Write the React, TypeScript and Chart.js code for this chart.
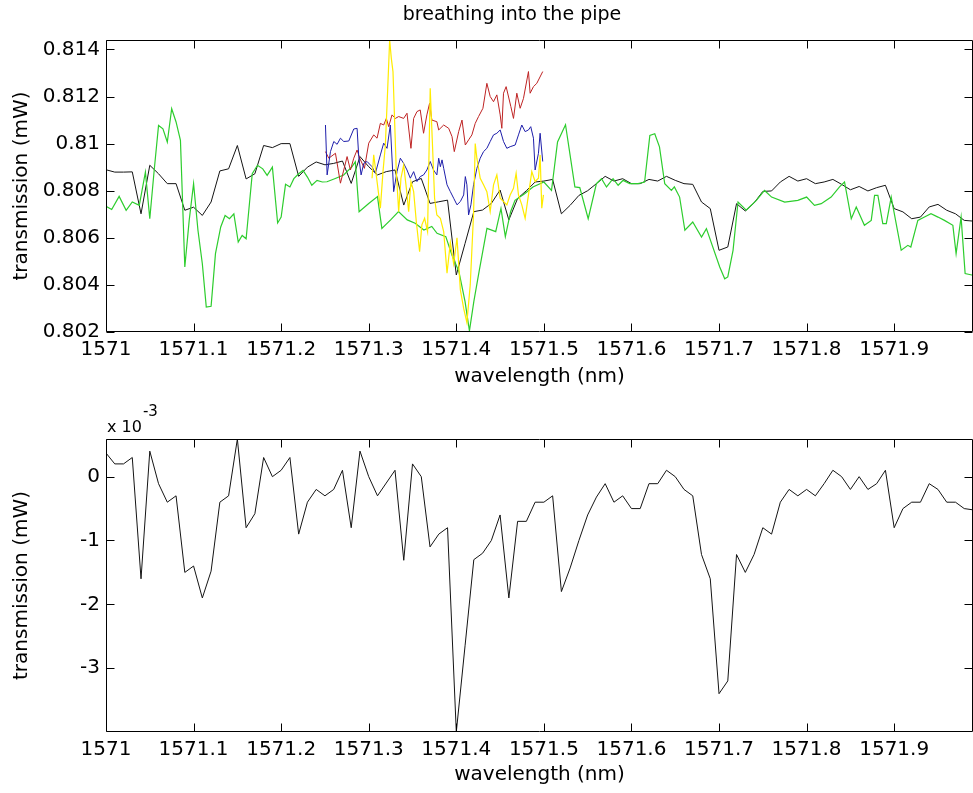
import React, { useEffect, useRef } from "react";
import { Chart, registerables } from "chart.js";

Chart.register(...registerables);

// ---------- data ----------
const TITLE = "breathing into the pipe";
const X_LABEL = "wavelength (nm)";
const Y_LABEL = "transmission (mW)";

const xTicks = [1571, 1571.1, 1571.2, 1571.3, 1571.4, 1571.5, 1571.6, 1571.7, 1571.8, 1571.9];
const topYTicks = [0.802, 0.804, 0.806, 0.808, 0.81, 0.812, 0.814];
const bottomYTicks = [-3, -2, -1, 0];

// regular 0.01 nm sampling grid (1571.00 ... 1571.99)
const gridWavelengths = Array.from({ length: 100 }, (_, i) => +(1571 + i * 0.01).toFixed(2));

// top panel, black trace (mW)
const blackValues = [
  0.80889, 0.80879, 0.80879, 0.8088, 0.80702, 0.80908, 0.80872, 0.8083, 0.8083, 0.80717,
  0.8073, 0.80695, 0.80752, 0.80884, 0.80893, 0.80992, 0.8085, 0.80872, 0.80992, 0.80983,
  0.81, 0.81, 0.80861, 0.809, 0.80922, 0.8091, 0.80916, 0.80926, 0.80831, 0.80945,
  0.80902, 0.80867, 0.80881, 0.80888, 0.80739, 0.80838, 0.80852, 0.80746, 0.80753, 0.8076,
  0.80442, 0.80576, 0.80711, 0.80718, 0.80746, 0.80803, 0.80676, 0.80767, 0.808, 0.80837,
  0.80841, 0.80848, 0.80702, 0.80738, 0.8078, 0.808, 0.8083, 0.80861, 0.80841, 0.80851,
  0.8083, 0.8083, 0.80848, 0.80841, 0.80861, 0.80844, 0.8083, 0.80827, 0.80752, 0.80724,
  0.80547, 0.80561, 0.80745, 0.80714, 0.80748, 0.80797, 0.80799, 0.80837, 0.80861, 0.80841,
  0.80851, 0.8083, 0.80837, 0.80848, 0.80827, 0.80804, 0.80818, 0.80799, 0.80813, 0.80823,
  0.80724, 0.8071, 0.80681, 0.80688, 0.80731, 0.80742, 0.80717, 0.80702, 0.80674, 0.80671,
];

// bottom panel, difference trace (x 10^-3 mW)
const differenceValues = [
  0.37, 0.2, 0.2, 0.3, -1.6, 0.4, -0.11, -0.4, -0.3, -1.5,
  -1.4, -1.9, -1.48, -0.4, -0.3, 0.59, -0.8, -0.58, 0.3, 0,
  0.1, 0.3, -0.9, -0.4, -0.2, -0.3, -0.2, 0.1, -0.8, 0.4,
  0, -0.3, -0.1, 0.1, -1.31, 0.2, 0, -1.1, -0.9, -0.8,
  -4.0, -2.65, -1.3, -1.2, -1.0, -0.6, -1.9, -0.7, -0.7, -0.4,
  -0.4, -0.3, -1.8, -1.43, -1.0, -0.6, -0.32, -0.11, -0.4, -0.3,
  -0.5, -0.5, -0.11, -0.11, 0.1, 0, -0.2, -0.3, -1.22, -1.6,
  -3.4, -3.2, -1.22, -1.5, -1.22, -0.8, -0.9, -0.4, -0.2, -0.3,
  -0.2, -0.3, -0.11, 0.1, 0, -0.2, 0, -0.2, -0.11, 0.1,
  -0.8, -0.5, -0.4, -0.4, -0.11, -0.2, -0.4, -0.4, -0.5, -0.52,
];

// top panel, green trace [wavelength nm, mW]
const greenSeries: [number, number][] = [
  [1571.0, 0.80734], [1571.0065, 0.8072], [1571.015, 0.80776], [1571.023, 0.80717], [1571.03, 0.80752],
  [1571.038, 0.80738], [1571.045, 0.80879], [1571.05, 0.80681], [1571.055, 0.80886], [1571.06, 0.81077],
  [1571.065, 0.81063], [1571.07, 0.81007], [1571.075, 0.81148], [1571.08, 0.81092], [1571.085, 0.81014],
  [1571.09, 0.80476], [1571.095, 0.80674], [1571.1, 0.8083], [1571.105, 0.80632], [1571.11, 0.8049],
  [1571.1145, 0.80306], [1571.12, 0.80309], [1571.125, 0.80533], [1571.131, 0.80646], [1571.136, 0.80695],
  [1571.141, 0.80681], [1571.146, 0.80702], [1571.151, 0.80582], [1571.1555, 0.8061], [1571.16, 0.80596],
  [1571.167, 0.80872], [1571.173, 0.80908], [1571.179, 0.80893], [1571.184, 0.80865], [1571.19, 0.809],
  [1571.196, 0.80663], [1571.2, 0.80688], [1571.205, 0.80827], [1571.21, 0.80816], [1571.2145, 0.80851],
  [1571.22, 0.80872], [1571.225, 0.80886], [1571.23, 0.80858], [1571.235, 0.80823], [1571.241, 0.80844],
  [1571.247, 0.80837], [1571.2523, 0.80838], [1571.2618, 0.80852], [1571.2714, 0.80867], [1571.281, 0.80902],
  [1571.2847, 0.80923], [1571.289, 0.80711], [1571.3, 0.80746], [1571.31, 0.80775], [1571.315, 0.8064],
  [1571.325, 0.80676], [1571.334, 0.80711], [1571.344, 0.80676], [1571.353, 0.80662], [1571.363, 0.80633],
  [1571.372, 0.80648], [1571.378, 0.80619], [1571.388, 0.80605], [1571.395, 0.80527], [1571.403, 0.80456],
  [1571.41, 0.80329], [1571.415, 0.80205], [1571.42, 0.80329], [1571.426, 0.80456], [1571.435, 0.8064],
  [1571.445, 0.80626], [1571.451, 0.80725], [1571.456, 0.80605], [1571.462, 0.80711], [1571.467, 0.80759],
  [1571.478, 0.80787], [1571.4875, 0.80816], [1571.5, 0.80837], [1571.5087, 0.80801], [1571.5156, 0.81007],
  [1571.5247, 0.8108], [1571.5354, 0.80816], [1571.541, 0.80813], [1571.5506, 0.80681], [1571.56, 0.8083],
  [1571.5658, 0.80851], [1571.5715, 0.80816], [1571.579, 0.80851], [1571.5848, 0.80823], [1571.5905, 0.80844],
  [1571.598, 0.8083], [1571.6076, 0.8083], [1571.615, 0.80837], [1571.621, 0.81035], [1571.6266, 0.81042],
  [1571.632, 0.80986], [1571.638, 0.8083], [1571.6456, 0.80801], [1571.649, 0.80816], [1571.655, 0.80773],
  [1571.661, 0.80632], [1571.67, 0.80667], [1571.68, 0.80603], [1571.6856, 0.80639], [1571.7008, 0.80476],
  [1571.7065, 0.80426], [1571.71, 0.80434], [1571.716, 0.80547], [1571.7217, 0.80752], [1571.731, 0.80717],
  [1571.7426, 0.80759], [1571.752, 0.80801], [1571.76, 0.80773], [1571.775, 0.80752], [1571.79, 0.80759],
  [1571.8, 0.80773], [1571.809, 0.80738], [1571.8167, 0.80745], [1571.828, 0.80773], [1571.8376, 0.80816],
  [1571.8433, 0.80837], [1571.851, 0.80681], [1571.8567, 0.80731], [1571.866, 0.80653], [1571.8738, 0.80674],
  [1571.8776, 0.8078], [1571.8814, 0.8078], [1571.887, 0.8066], [1571.891, 0.8066], [1571.8966, 0.80773],
  [1571.908, 0.80547], [1571.9156, 0.80568], [1571.919, 0.80561], [1571.927, 0.80674], [1571.9346, 0.80688],
  [1571.942, 0.80702], [1571.95, 0.80688], [1571.9574, 0.80674], [1571.967, 0.80653], [1571.9707, 0.80533],
  [1571.9764, 0.80688], [1571.981, 0.80448], [1571.99, 0.80441],
];

// top panel, red trace
const redSeries: [number, number][] = [
  [1571.2506, 0.80966], [1571.2544, 0.80938], [1571.262, 0.80959], [1571.2677, 0.80832], [1571.2715, 0.80888],
  [1571.2753, 0.80945], [1571.2791, 0.80888], [1571.2829, 0.80938], [1571.2867, 0.80973], [1571.2897, 0.80938],
  [1571.2951, 0.80895], [1571.3, 0.81002], [1571.3057, 0.81037], [1571.3095, 0.81023], [1571.3133, 0.81086],
  [1571.3171, 0.81079], [1571.3201, 0.81107], [1571.3228, 0.81072], [1571.3266, 0.81122], [1571.3304, 0.81107],
  [1571.3342, 0.81115], [1571.3399, 0.81107], [1571.3437, 0.81129], [1571.3482, 0.8098], [1571.3513, 0.81107],
  [1571.3551, 0.81136], [1571.3588, 0.81143], [1571.3626, 0.81044], [1571.3664, 0.81122], [1571.3695, 0.81171],
  [1571.3721, 0.811], [1571.3778, 0.81093], [1571.3799, 0.81058], [1571.3856, 0.81079], [1571.3913, 0.81065],
  [1571.3951, 0.8103], [1571.3977, 0.80966], [1571.4027, 0.81051], [1571.4065, 0.811], [1571.4103, 0.80994],
  [1571.4141, 0.81016], [1571.4178, 0.81037], [1571.4216, 0.81086], [1571.4254, 0.81115], [1571.4304, 0.8115],
  [1571.4349, 0.81256], [1571.4387, 0.812], [1571.4425, 0.81178], [1571.4463, 0.81207], [1571.4501, 0.81122],
  [1571.452, 0.81065], [1571.4539, 0.81214], [1571.4569, 0.81242], [1571.4623, 0.81157], [1571.4653, 0.81107],
  [1571.4691, 0.81214], [1571.4729, 0.8115], [1571.4767, 0.81192], [1571.4824, 0.81306], [1571.4843, 0.81214],
  [1571.4881, 0.81242], [1571.4919, 0.81256], [1571.4987, 0.81306],
];

// top panel, blue trace
const blueSeries: [number, number][] = [
  [1571.2506, 0.81079], [1571.2525, 0.80867], [1571.2563, 0.80966], [1571.2601, 0.81009], [1571.2639, 0.80997],
  [1571.2677, 0.81023], [1571.2715, 0.81009], [1571.2772, 0.81011], [1571.2829, 0.81062], [1571.2867, 0.81065],
  [1571.2886, 0.80945], [1571.2913, 0.80867], [1571.2943, 0.80916], [1571.2981, 0.80924], [1571.3038, 0.80902],
  [1571.3076, 0.80874], [1571.3133, 0.80952], [1571.3171, 0.81002], [1571.3209, 0.8098], [1571.3247, 0.81079],
  [1571.3285, 0.80796], [1571.3323, 0.80881], [1571.3361, 0.80938], [1571.3399, 0.80916], [1571.3437, 0.80888],
  [1571.3475, 0.80853], [1571.3513, 0.80881], [1571.3551, 0.80839], [1571.3588, 0.8086], [1571.3626, 0.80867],
  [1571.3664, 0.80888], [1571.3702, 0.80924], [1571.374, 0.80888], [1571.3778, 0.80867], [1571.3799, 0.80938],
  [1571.3818, 0.80902], [1571.3837, 0.80931], [1571.3856, 0.80895], [1571.3894, 0.80825], [1571.3932, 0.80796],
  [1571.397, 0.80768], [1571.4008, 0.8074], [1571.4046, 0.80754], [1571.4084, 0.80782], [1571.4103, 0.8086],
  [1571.4121, 0.80825], [1571.414, 0.80697], [1571.4167, 0.8074], [1571.4197, 0.80825], [1571.4235, 0.80895],
  [1571.4273, 0.80938], [1571.4311, 0.80966], [1571.4349, 0.8098], [1571.4387, 0.81009], [1571.4425, 0.81037],
  [1571.4463, 0.81044], [1571.4501, 0.81058], [1571.4539, 0.81009], [1571.4577, 0.8098], [1571.4615, 0.80987],
  [1571.4672, 0.80994], [1571.471, 0.81037], [1571.4748, 0.81079], [1571.4786, 0.81051], [1571.4824, 0.81058],
  [1571.485, 0.81072], [1571.4881, 0.81023], [1571.49, 0.80888], [1571.4938, 0.80959], [1571.4957, 0.81044],
  [1571.4987, 0.80924],
];

// top panel, yellow trace
const yellowSeries: [number, number][] = [
  [1571.3038, 0.80853], [1571.3057, 0.80952], [1571.3095, 0.80839], [1571.3133, 0.80726], [1571.3163, 0.80881],
  [1571.319, 0.80994], [1571.3217, 0.81235], [1571.3239, 0.8144], [1571.3258, 0.81362], [1571.3277, 0.81306],
  [1571.3296, 0.81093], [1571.3315, 0.80881], [1571.3342, 0.80711], [1571.3368, 0.80853], [1571.3399, 0.80909],
  [1571.343, 0.8081], [1571.3456, 0.80711], [1571.3482, 0.80839], [1571.3513, 0.80796], [1571.3543, 0.80669],
  [1571.3581, 0.80541], [1571.3607, 0.80655], [1571.3638, 0.80683], [1571.3672, 0.80626], [1571.3702, 0.81235],
  [1571.3725, 0.81023], [1571.3752, 0.80768], [1571.3778, 0.80697], [1571.3818, 0.80683], [1571.3856, 0.80626],
  [1571.3894, 0.8045], [1571.3932, 0.8058], [1571.397, 0.8049], [1571.4008, 0.806], [1571.4046, 0.8038],
  [1571.4084, 0.803], [1571.4121, 0.8024], [1571.4159, 0.804], [1571.4197, 0.807], [1571.4216, 0.81],
  [1571.4235, 0.80938], [1571.4273, 0.80853], [1571.4311, 0.80825], [1571.4349, 0.80796], [1571.4387, 0.80711],
  [1571.4425, 0.80825], [1571.4463, 0.80867], [1571.4501, 0.80768], [1571.4539, 0.80754], [1571.4577, 0.8074],
  [1571.4615, 0.80782], [1571.4653, 0.8081], [1571.4683, 0.80874], [1571.471, 0.80782], [1571.4748, 0.8074],
  [1571.4786, 0.80683], [1571.4824, 0.80782], [1571.4862, 0.80881], [1571.49, 0.80839], [1571.4938, 0.80853],
  [1571.4957, 0.80952], [1571.4976, 0.80726], [1571.4995, 0.80782],
];

// ---------- styling ----------
const FAMILY = "'DejaVu Sans', 'Liberation Sans', Arial, sans-serif";
const TICK_FONT = { family: FAMILY, size: 20, weight: "normal" as const };
const LABEL_FONT = { family: FAMILY, size: 20, weight: "normal" as const };
const X_MIN = 1571;
const X_MAX = 1571.99;
const CANVAS_W = 1024;
const RIGHT_GUTTER = 51; // canvas extends past the 973px window, like a cropped figure
const LEFT_GUTTER = 106;

const pairs = (s: [number, number][]) => s.map(([x, y]) => ({ x, y }));
const onGrid = (vals: number[]) => vals.map((y, i) => ({ x: gridWavelengths[i], y }));

const matlabAxes = {
  id: "matlabAxes",
  afterDatasetsDraw(chart: any) {
    const { ctx, chartArea: a, scales } = chart;
    const xs = scales.x;
    const ys = scales.y;
    const L = Math.round(a.left) + 0.5;
    const R = Math.round(a.right) - 0.5;
    const T = Math.round(a.top) + 0.5;
    const B = Math.round(a.bottom) - 0.5;
    const len = 8;
    ctx.save();
    ctx.strokeStyle = "#000";
    ctx.lineWidth = 1;
    ctx.beginPath();
    ctx.rect(L, T, R - L, B - T);
    xs.ticks.forEach((t: any) => {
      const px = Math.round(xs.getPixelForValue(t.value)) + 0.5;
      ctx.moveTo(px, B);
      ctx.lineTo(px, B - len);
      ctx.moveTo(px, T);
      ctx.lineTo(px, T + len);
    });
    ys.ticks.forEach((t: any) => {
      const py = Math.round(ys.getPixelForValue(t.value)) + 0.5;
      ctx.moveTo(L, py);
      ctx.lineTo(L + len, py);
      ctx.moveTo(R, py);
      ctx.lineTo(R - len, py);
    });
    ctx.stroke();
    ctx.restore();
  },
};

const exponentLabel = {
  id: "exponentLabel",
  afterDraw(chart: any) {
    const { ctx, chartArea: a } = chart;
    ctx.save();
    ctx.fillStyle = "#000";
    ctx.textBaseline = "alphabetic";
    ctx.textAlign = "left";
    ctx.font = `16px ${FAMILY}`;
    const base = "x 10";
    ctx.fillText(base, a.left + 1, a.top - 7);
    const w = ctx.measureText(base).width;
    ctx.font = `15px ${FAMILY}`;
    ctx.fillText("-3", a.left + 2 + w, a.top - 23);
    ctx.restore();
  },
};

function makeOptions(opts: {
  yMin: number;
  yMax: number;
  yTicks: number[];
  yFmt: (v: number) => string;
  xScaleHeight: number;
  xTitlePadBottom: number;
  title?: string;
  topPad: number;
}) {
  return {
    responsive: false,
    animation: false as const,
    devicePixelRatio: 1,
    layout: { padding: { top: opts.topPad, left: 0, right: 0, bottom: 0 } },
    plugins: {
      legend: { display: false },
      tooltip: { enabled: false },
      title: opts.title
        ? {
            display: true,
            text: opts.title,
            color: "#000",
            font: { family: FAMILY, size: 19, weight: "normal" as const },
            padding: { top: 4, bottom: 13.2 },
          }
        : { display: false },
    },
    elements: { point: { radius: 0 }, line: { tension: 0, borderWidth: 1 } },
    scales: {
      x: {
        type: "linear" as const,
        min: X_MIN,
        max: X_MAX,
        afterBuildTicks: (s: any) => {
          s.ticks = xTicks.map((v) => ({ value: v }));
        },
        afterFit: (s: any) => {
          s.height = opts.xScaleHeight;
        },
        ticks: {
          autoSkip: false,
          maxRotation: 0,
          minRotation: 0,
          padding: 6,
          color: "#000",
          font: TICK_FONT,
          callback: (v: any) => String(+Number(v).toFixed(1)),
        },
        grid: { display: false, drawTicks: false },
        border: { display: false },
        title: {
          display: true,
          text: X_LABEL,
          color: "#000",
          font: LABEL_FONT,
          padding: { top: 0, bottom: opts.xTitlePadBottom },
        },
      },
      y: {
        type: "linear" as const,
        position: "left" as const,
        min: opts.yMin,
        max: opts.yMax,
        afterBuildTicks: (s: any) => {
          s.ticks = opts.yTicks.map((v) => ({ value: v }));
        },
        afterFit: (s: any) => {
          s.width = LEFT_GUTTER;
        },
        ticks: {
          autoSkip: false,
          padding: 6,
          color: "#000",
          font: TICK_FONT,
          callback: (v: any) => opts.yFmt(Number(v)),
        },
        grid: { display: false, drawTicks: false },
        border: { display: false },
        title: {
          display: true,
          text: Y_LABEL,
          color: "#000",
          font: LABEL_FONT,
          padding: { top: 10, bottom: 0 },
        },
      },
      gutter: {
        type: "linear" as const,
        position: "right" as const,
        display: true,
        ticks: { display: false },
        grid: { display: false, drawTicks: false },
        border: { display: false },
        afterFit: (s: any) => {
          s.width = RIGHT_GUTTER;
        },
      },
    },
  };
}

export default function App() {
  const topRef = useRef<HTMLCanvasElement | null>(null);
  const bottomRef = useRef<HTMLCanvasElement | null>(null);

  useEffect(() => {
    const top = new Chart(topRef.current as HTMLCanvasElement, {
      type: "line",
      data: {
        datasets: [
          { label: "yellow", data: pairs(yellowSeries), borderColor: "rgb(255,236,0)", borderWidth: 1.2 },
          { label: "blue", data: pairs(blueSeries), borderColor: "rgb(30,30,170)", borderWidth: 1 },
          { label: "red", data: pairs(redSeries), borderColor: "rgb(190,35,35)", borderWidth: 1 },
          { label: "green", data: pairs(greenSeries), borderColor: "rgb(45,205,45)", borderWidth: 1.2 },
          { label: "black", data: onGrid(blackValues), borderColor: "rgb(20,20,20)", borderWidth: 1 },
        ],
      },
      options: makeOptions({
        yMin: 0.802,
        yMax: 0.8144,
        yTicks: topYTicks,
        yFmt: (v) => String(+v.toFixed(3)),
        xScaleHeight: 68,
        xTitlePadBottom: 11,
        title: TITLE,
        topPad: 0,
      }) as any,
      plugins: [matlabAxes],
    });

    const bottom = new Chart(bottomRef.current as HTMLCanvasElement, {
      type: "line",
      data: {
        datasets: [
          { label: "difference", data: onGrid(differenceValues), borderColor: "rgb(20,20,20)", borderWidth: 1 },
        ],
      },
      options: makeOptions({
        yMin: -4.0,
        yMax: 0.59,
        yTicks: bottomYTicks,
        yFmt: (v) => String(Math.round(v)),
        xScaleHeight: 61,
        xTitlePadBottom: 6,
        topPad: 39,
      }) as any,
      plugins: [matlabAxes, exponentLabel],
    });

    return () => {
      top.destroy();
      bottom.destroy();
    };
  }, []);

  return (
    <div
      style={{
        position: "fixed",
        left: 0,
        top: 0,
        width: 973,
        height: 793,
        overflow: "hidden",
        background: "#fff",
      }}
    >
      <canvas
        ref={topRef}
        width={CANVAS_W}
        height={400}
        style={{ position: "absolute", left: 0, top: 0, width: CANVAS_W, height: 400 }}
      />
      <canvas
        ref={bottomRef}
        width={CANVAS_W}
        height={393}
        style={{ position: "absolute", left: 0, top: 400, width: CANVAS_W, height: 393 }}
      />
    </div>
  );
}
